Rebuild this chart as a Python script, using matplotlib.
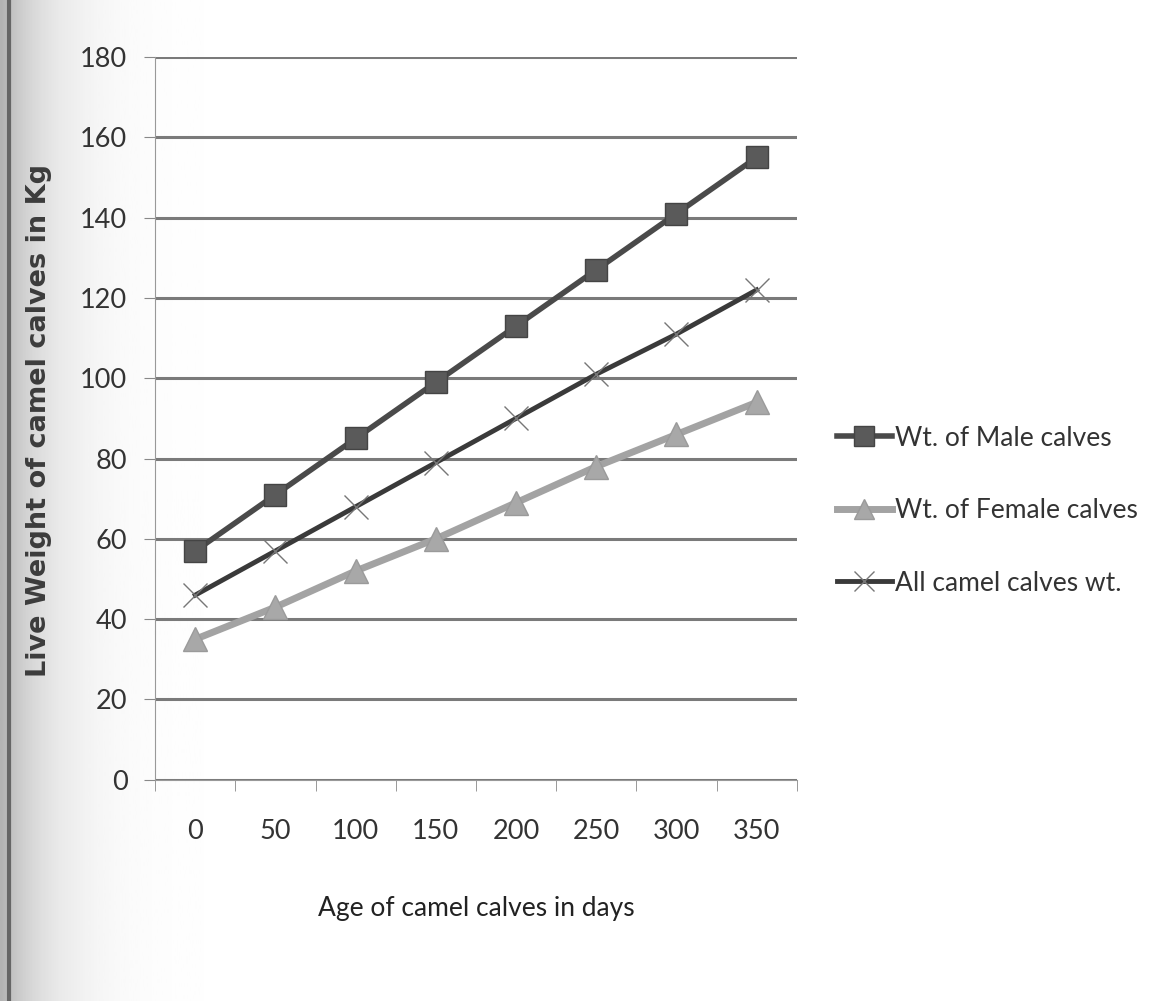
import numpy as np
import matplotlib.pyplot as plt
from matplotlib.lines import Line2D

ages = ["0", "50", "100", "150", "200", "250", "300", "350"]
male_wt = [57, 71, 85, 99, 113, 127, 141, 155]
female_wt = [35, 43, 52, 60, 69, 78, 86, 94]
all_wt = [46, 57, 68, 79, 90, 101, 111, 122]

narrow = ["Lato", "DejaVu Sans"]

fig = plt.figure(figsize=(11.58, 10.01), dpi=100)

# faint scan shading along the left edge
bg = fig.add_axes([0, 0, 1, 1], zorder=-10)
grad = np.linspace(0, 1, 400)
shade = 1 - 0.3 * np.exp(-grad * 25)
bg.imshow(shade[None, :], cmap="gray", vmin=0, vmax=1, aspect="auto",
          extent=[0, 1, 0, 1])
bg.axvline(0.008, color="#666666", lw=3)
bg.axis("off")

ax = fig.add_axes([0.134, 0.221, 0.554, 0.722])
ax.patch.set_alpha(0)
x = np.arange(len(ages))

ax.plot(x, male_wt, color="#4a4a4a", lw=4, marker="s", ms=16,
        mfc="#5a5a5a", mec="#444444", label="Wt. of Male calves", zorder=4)
ax.plot(x, female_wt, color="#a3a3a3", lw=5, marker="^", ms=17,
        mfc="#a8a8a8", mec="#9a9a9a", label="Wt. of Female calves", zorder=3)
ax.plot(x, all_wt, color="#3a3a3a", lw=3.5, marker="x", ms=17, mew=1,
        mec="#777777", label="All camel calves wt.", zorder=3)

ax.set_xlim(-0.5, len(ages) - 0.5)
ax.set_ylim(0, 180)
ax.set_yticks(range(0, 181, 20))
ax.yaxis.grid(True, color="#7a7a7a", lw=2.2)
ax.set_axisbelow(True)

ax.set_xticks(x)
ax.set_xticklabels(ages, family=narrow, fontsize=19.5, color="#333333")
ax.set_xticks(np.arange(-0.5, len(ages)), minor=True)
ax.tick_params(axis="x", which="major", length=0, pad=28)
ax.tick_params(axis="x", which="minor", length=8, color="#888888")
ax.tick_params(axis="y", length=8, color="#888888", pad=12)
for lab in ax.get_yticklabels():
    lab.set_family(narrow)
    lab.set_fontsize(19.5)
    lab.set_color("#333333")

for s in ["top", "right"]:
    ax.spines[s].set_visible(False)
ax.spines["left"].set_color("#999999")
ax.spines["bottom"].set_color("#999999")

ax.set_xlabel("Age of camel calves in days", family=narrow, fontsize=19,
              color="#222222", labelpad=38)
fig.text(0.034, 0.58, "Live Weight of camel calves in Kg", rotation=90,
         ha="center", va="center", fontsize=19.5, fontweight="bold",
         color="#3c3c3c", family="DejaVu Sans")

handles = [
    Line2D([], [], color="#4a4a4a", lw=4, marker="s", ms=14, mfc="#5a5a5a", mec="#444444"),
    Line2D([], [], color="#a3a3a3", lw=5, marker="^", ms=14, mfc="#a8a8a8", mec="#9a9a9a"),
    Line2D([], [], color="#3a3a3a", lw=3.5, marker="x", ms=14, mew=1, mec="#777777"),
]
labels = ["Wt. of Male calves", "Wt. of Female calves", "All camel calves wt."]
fig.legend(handles, labels, loc="center left", bbox_to_anchor=(0.702, 0.49),
           frameon=False, prop={"family": narrow, "size": 19},
           handlelength=2.1, handletextpad=0.1, labelspacing=1.8,
           labelcolor="#333333")

fig.savefig("out.png", dpi=100)
